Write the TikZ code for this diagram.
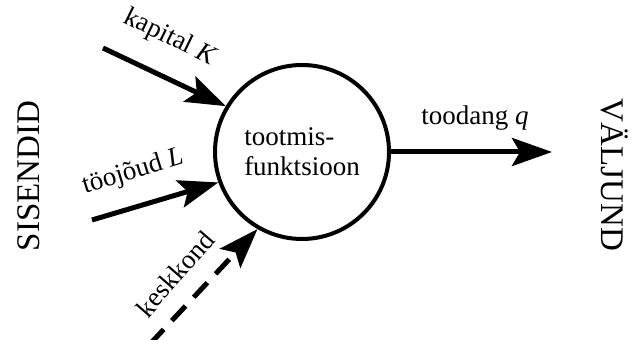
\documentclass[tikz,border=0pt]{standalone}
\usepackage{fontspec}
\setmainfont{Liberation Serif}
\usetikzlibrary{arrows.meta,positioning,calc}

\begin{document}
\begin{tikzpicture}[x=0.5pt,y=0.5pt,
  big/.style={font=\fontsize{16.5}{18}\selectfont},
  lab/.style={font=\fontsize{13.5}{15}\selectfont,inner sep=1pt},
  flow/.style={line width=2.5pt,-{Stealth[length=20pt,width=14pt,inset=4pt]}}]
\useasboundingbox (0,0) rectangle (635,340);
\node[shape=circle,draw,line width=2pt,minimum size=87pt,inner sep=0pt,
  lab,align=left] (F) at (302,188) {tootmis-\\funktsioon};
% inputs
\coordinate (K) at (103,292);
\coordinate (L) at (92,120);
\coordinate (E) at (150,-4);
\coordinate (Q) at (552,188);
\draw[flow] (K) -- (F.149);
\draw[flow] (L) -- (F.200);
\draw[flow,dash pattern=on 10pt off 6pt] (E) -- (F.240);
% output
\draw[flow] (F.east) -- (Q);
\node[lab,rotate=-26] (KK) at (170,302) {kapital \textit{K}};
\node[lab,rotate=17] (LL) at (133,168) {töojõud \textit{L}};
\node[lab,rotate=49] (EE) at (175,66) {keskkond};
\node[lab] (QQ) at (475,222) {toodang \textit{q}};
\node[big,rotate=90] (S) at (29,164) {SISENDID};
\node[big,rotate=-90] (V) at (615,165) {VÄLJUND};
\end{tikzpicture}
\end{document}
